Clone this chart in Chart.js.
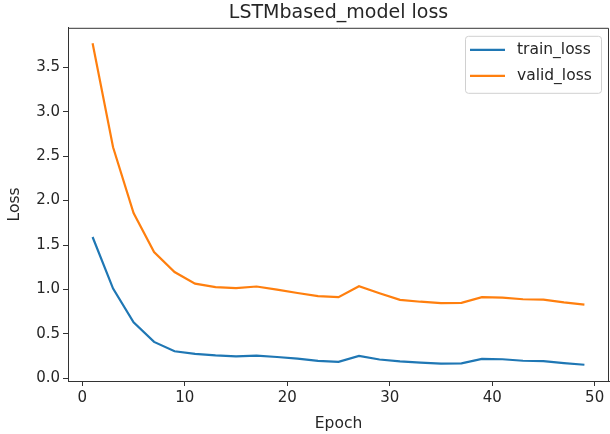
<!DOCTYPE html>
<html>
<head>
<meta charset="utf-8">
<script src="https://cdn.jsdelivr.net/npm/chart.js@4/dist/chart.umd.min.js"></script>
<style>
  html, body { margin: 0; padding: 0; background: #fff; }
  #wrap { width: 610px; height: 434px; }
</style>
</head>
<body>
<div id="wrap"><canvas id="lossChart" width="610" height="434"></canvas></div>
<script>
// values
const epochs = [1, 3, 5, 7, 9, 11, 13, 15, 17, 19, 21, 23, 25, 27, 29, 31, 33, 35, 37, 39, 41, 43, 45, 47, 49];
const trainLoss = [1.59, 1.01, 0.63, 0.41, 0.305, 0.275, 0.258, 0.248, 0.255, 0.24, 0.221, 0.197, 0.186, 0.252, 0.212, 0.19, 0.176, 0.165, 0.168, 0.219, 0.215, 0.198, 0.194, 0.172, 0.153];
const validLoss = [3.77, 2.6, 1.86, 1.42, 1.196, 1.065, 1.027, 1.016, 1.033, 0.998, 0.96, 0.926, 0.914, 1.036, 0.958, 0.883, 0.862, 0.847, 0.85, 0.913, 0.909, 0.89, 0.886, 0.854, 0.83];
const seriesNames = ['train_loss', 'valid_loss'];
const xTicks = [0, 10, 20, 30, 40, 50];
const yTicks = [0, 0.5, 1.0, 1.5, 2.0, 2.5, 3.0, 3.5];

const FONT = 'DejaVu Sans';
const TEXT = '#262626';

// top/right spines
const frame = {
  id: 'frame',
  afterDatasetsDraw(chart) {
    const a = chart.chartArea, c = chart.ctx;
    c.save();
    c.strokeStyle = '#333';
    c.lineWidth = 1;
    c.beginPath();
    c.moveTo(a.left, a.top + 0.5);
    c.lineTo(a.right - 0.5, a.top + 0.5);
    c.lineTo(a.right - 0.5, a.bottom);
    c.stroke();
    c.restore();
  }
};

// matplotlib-style legend inside the upper right corner
const innerLegend = {
  id: 'innerLegend',
  afterDraw(chart) {
    const c = chart.ctx, a = chart.chartArea;
    const sets = chart.data.datasets;
    const w = 136, h = 57;
    const x = a.right - 8 - w, y = a.top + 8;
    c.save();
    c.fillStyle = 'rgba(255,255,255,0.8)';
    c.strokeStyle = '#d0d0d0';
    c.lineWidth = 1;
    c.beginPath();
    c.roundRect(x + 0.5, y + 0.5, w, h, 3);
    c.fill();
    c.stroke();
    c.font = '15.5px "' + FONT + '"';
    c.textBaseline = 'middle';
    sets.forEach((ds, i) => {
      const ly = y + 14 + i * 26;
      c.strokeStyle = ds.borderColor;
      c.lineWidth = 2.2;
      c.beginPath();
      c.moveTo(x + 5, ly);
      c.lineTo(x + 40, ly);
      c.stroke();
      c.fillStyle = TEXT;
      c.fillText(ds.label, x + 52, ly);
    });
    c.restore();
  }
};

new Chart(document.getElementById('lossChart'), {
  type: 'line',
  data: {
    datasets: [
      {
        label: seriesNames[0],
        data: epochs.map((e, i) => ({ x: e, y: trainLoss[i] })),
        borderColor: '#1f77b4',
        borderWidth: 2.2,
        pointRadius: 0,
        tension: 0
      },
      {
        label: seriesNames[1],
        data: epochs.map((e, i) => ({ x: e, y: validLoss[i] })),
        borderColor: '#ff7f0e',
        borderWidth: 2.2,
        pointRadius: 0,
        tension: 0
      }
    ]
  },
  options: {
    responsive: false,
    animation: false,
    layout: { padding: { left: 0, right: 1, top: 0, bottom: 0 } },
    plugins: {
      legend: { display: false },
      tooltip: { enabled: false },
      title: {
        display: true,
        text: 'LSTMbased_model loss',
        fullSize: false,
        color: TEXT,
        font: { family: FONT, size: 19, weight: 'normal' },
        padding: { top: 2, bottom: 3 }
      }
    },
    scales: {
      x: {
        type: 'linear',
        min: -1.4,
        max: 51.4,
        afterBuildTicks: s => { s.ticks = xTicks.map(v => ({ value: v })); },
        afterFit: s => { s.height = 53; },
        grid: { drawOnChartArea: false, drawTicks: true, tickLength: 5, color: '#333' },
        border: { color: '#333', width: 1 },
        ticks: { color: TEXT, font: { family: FONT, size: 15 }, padding: 3, maxRotation: 0 },
        title: { display: true, text: 'Epoch', color: TEXT, font: { family: FONT, size: 15.5 }, padding: { top: 2, bottom: 1 } }
      },
      y: {
        type: 'linear',
        min: -0.03,
        max: 3.944,
        afterBuildTicks: s => { s.ticks = yTicks.map(v => ({ value: v })); },
        afterFit: s => { s.width = 68; },
        grid: { drawOnChartArea: false, drawTicks: true, tickLength: 5, color: '#333' },
        border: { color: '#333', width: 1 },
        ticks: { color: TEXT, font: { family: FONT, size: 15 }, padding: 3, callback: v => v.toFixed(1) },
        title: { display: true, text: 'Loss', color: TEXT, font: { family: FONT, size: 15.5 }, padding: { top: 6, bottom: 2 } }
      }
    }
  },
  plugins: [frame, innerLegend]
});
</script>
</body>
</html>
